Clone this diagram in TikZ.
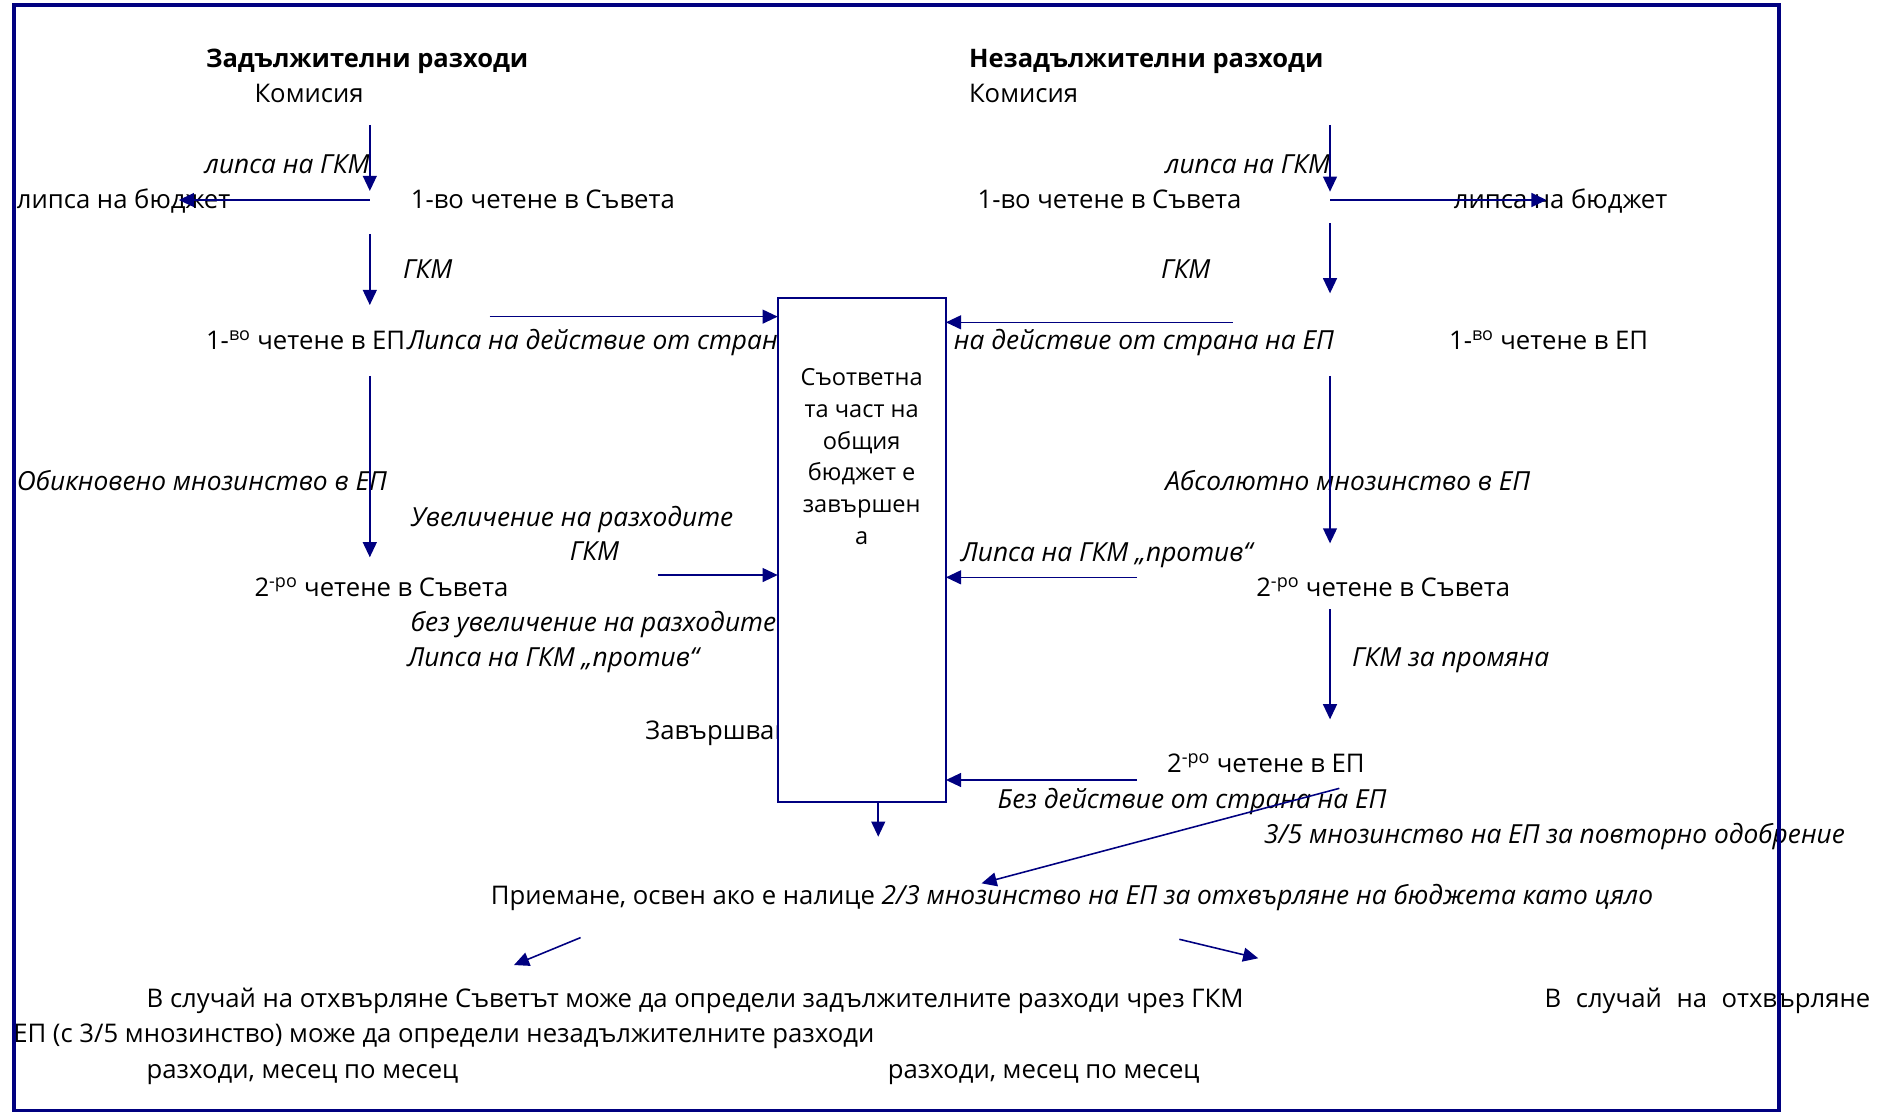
\documentclass[tikz,border=0pt]{standalone}
\usepackage{fontspec}
\setmainfont{Open Sans}
\usetikzlibrary{arrows.meta}
\definecolor{navy}{RGB}{0,0,128}
\newcommand\fs{\fontsize{21.25pt}{25pt}\selectfont}
\newcommand\fsi{\fontsize{21.75pt}{25pt}\selectfont\itshape}
\newcommand\fsb{\fontsize{21.1pt}{25pt}\selectfont\bfseries}
\newcommand\fsbox{\fontsize{19.5pt}{23pt}\selectfont}
\tikzset{
  txt/.style={inner sep=0pt, outer sep=0pt, anchor=base west, font=\fs},
  it/.style={txt, font=\fsi},
  bf/.style={txt, font=\fsb},
  boxtxt/.style={inner sep=0pt, outer sep=0pt, anchor=base, font=\fsbox},
  arr/.style={draw=navy, line width=1.3pt, -{Triangle[length=12.5pt,width=11.5pt]}},
  bigbox/.style={draw=navy, line width=1.8pt, fill=white, inner sep=0pt, outer sep=0pt,
     minimum width=139.2pt, minimum height=417pt, anchor=north west},
  frame/.style={draw=navy, line width=3.3pt}
}
\begin{document}
\begin{tikzpicture}[x=1pt,y=-1pt]
\useasboundingbox (0,0) rectangle (1568,920);
% texts
\node[bf] (h1) at (170.5,55.5) {Задължителни разходи};
\node[txt] (k1) at (210.6,84.5) {Комисия};
\node[bf] (h2) at (801.8,55.5) {Незадължителни разходи};
\node[txt] (k2) at (801.8,84.5) {Комисия};
\node[it] (l1) at (169.5,143.5) {липса на ГКМ};
\node[it] (l2) at (964.3,143.5) {липса на ГКМ};
\node[txt] (c1) at (340,172.5) {1-во четене в Съвета};
\node[txt] (c2) at (808.9,172.5) {1-во четене в Съвета};
\node[txt] (b1) at (14,172.5) {липса на бюджет};
\node[txt] (b2) at (1203,172.5) {липса на бюджет};
\node[it] (g1) at (333.5,230.5) {ГКМ};
\node[it] (g2) at (960.8,230.5) {ГКМ};
\node[txt] (e1) at (170.5,289.5) {1-\textsuperscript{во} четене в ЕП};
\node[it] (n1) at (337,289.5) {Липса на действие от страна на ЕП};
\node[it, anchor=base east] (n2) at (1103.8,289.5) {Липса на действие от страна на ЕП};
\node[txt] (e2) at (1199,289.5) {1-\textsuperscript{во} четене в ЕП};
\node[it] (o1) at (14,405.5) {Обикновено мнозинство в ЕП};
\node[it] (a2) at (964.3,405.5) {Абсолютно мнозинство в ЕП};
\node[it] (u1) at (340,435.5) {Увеличение на разходите};
\node[it] (g3) at (471.5,464) {ГКМ};
\node[it] (p2) at (795,464.5) {Липса на ГКМ „против“};
\node[txt] (s1) at (210.6,493.5) {2\textsuperscript{-ро} четене в Съвета};
\node[txt] (s2) at (1039.5,493.5) {2\textsuperscript{-ро} четене в Съвета};
\node[it] (bu) at (340,522.7) {без увеличение на разходите};
\node[it] (p1) at (337,551.6) {Липса на ГКМ „против“};
\node[it] (gp) at (1118.8,551.6) {ГКМ за промяна};
\node[txt] (zv) at (534,612.3) {Завършване};
\node[txt] (r2) at (965.8,639.5) {2\textsuperscript{-ро} четене в ЕП};
\node[it] (bd) at (825.4,668.7) {Без действие от страна на ЕП};
\node[it] (tf) at (1046,697.8) {3/5 мнозинство на ЕП за повторно одобрение};
\node[txt] (pr) at (406.2,748) {Приемане, освен ако е налице {\fsi 2/3 мнозинство на ЕП за отхвърляне на бюджета като цяло}};
\node[txt] (v1) at (121.4,833.7) {В случай на отхвърляне Съветът може да определи задължителните разходи чрез ГКМ};
\node[txt] (v2) at (1278,833.7) {\makebox[269.5pt][s]{В случай на отхвърляне}};
\node[txt] (ep) at (11,862.8) {ЕП (с 3/5 мнозинство) може да определи незадължителните разходи};
\node[txt] (m1) at (121.4,892.2) {разходи, месец по месец};
\node[txt] (m2) at (734.7,892.2) {разходи, месец по месец};
% central box
\node[bigbox] (box) at (643.5,246.3) {};
\foreach \t [count=\i from 0] in {Съответна,та част на,общия,бюджет е,завършен,а}
  \node[boxtxt] (bt\i) at (713,318.6+26.46*\i) {\t};
% arrow end points
\coordinate (a1s) at (306,103.4);   \coordinate (a1e) at (306,158);
\coordinate (a2s) at (306,165.5);   \coordinate (a2e) at (148,165.5);
\coordinate (a3s) at (306,193.6);   \coordinate (a3e) at (306,252.4);
\coordinate (a4s) at (405.2,262);
\coordinate (a5s) at (306,311.1);   \coordinate (a5e) at (306,461.1);
\coordinate (a6s) at (544.1,475.8);
\coordinate (a7s) at (726.7,663.3); \coordinate (a7e) at (726.7,692.3);
\coordinate (a8s) at (1100.5,103.4); \coordinate (a8e) at (1100.5,158.6);
\coordinate (a9s) at (1100.5,165.5); \coordinate (a9e) at (1279.7,165.5);
\coordinate (a10s) at (1100.5,184.8); \coordinate (a10e) at (1100.5,242.7);
\coordinate (a11s) at (1020,266.7);
\coordinate (a12s) at (1100.5,311); \coordinate (a12e) at (1100.5,449.6);
\coordinate (a13s) at (940.8,477.7);
\coordinate (a14s) at (1100.5,504.2); \coordinate (a14e) at (1100.5,595.2);
\coordinate (a15s) at (940.8,645.4);
\coordinate (a16s) at (1108.2,652.3); \coordinate (a16e) at (812.2,730.9);
\coordinate (a17s) at (480.4,775.8); \coordinate (a17e) at (425.3,798.5);
\coordinate (a18s) at (975.8,777.2); \coordinate (a18e) at (1041.1,792.9);
% arrows
\draw[arr] (a1s) -- (a1e);
\draw[arr] (a2s) -- (a2e);
\draw[arr] (a3s) -- (a3e);
\draw[arr] (a4s) -- (a4s -| box.west);
\draw[arr] (a5s) -- (a5e);
\draw[arr] (a6s) -- (a6s -| box.west);
\draw[arr] (a7s) -- (a7e);
\draw[arr] (a8s) -- (a8e);
\draw[arr] (a9s) -- (a9e);
\draw[arr] (a10s) -- (a10e);
\draw[arr] (a11s) -- (a11s -| box.east);
\draw[arr] (a12s) -- (a12e);
\draw[arr] (a13s) -- (a13s -| box.east);
\draw[arr] (a14s) -- (a14e);
\draw[arr] (a15s) -- (a15s -| box.east);
\draw[arr] (a16s) -- (a16e);
\draw[arr] (a17s) -- (a17e);
\draw[arr] (a18s) -- (a18e);
% outer frame
\coordinate (fr1) at (11.5,3.9);
\coordinate (fr2) at (1472,919);
\draw[frame] (fr1) rectangle (fr2);
\end{tikzpicture}
\end{document}
